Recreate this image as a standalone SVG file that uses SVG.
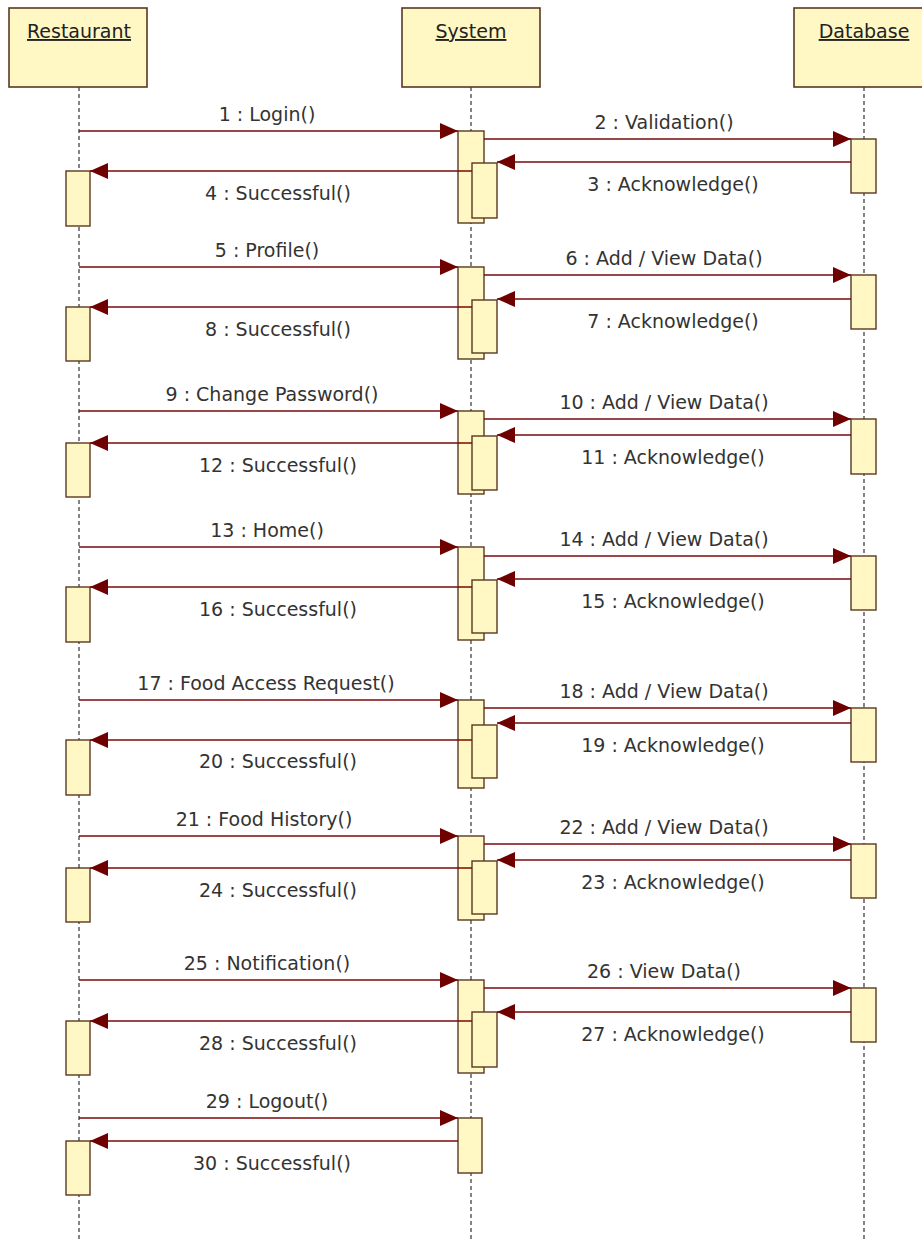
<svg xmlns="http://www.w3.org/2000/svg" width="922" height="1242" viewBox="0 0 922 1242">
<style>
.box{fill:#FFF8C4;stroke:#5a3820;stroke-width:1.6}
.act{fill:#FFF8C4;stroke:#5a3820;stroke-width:1.4}
.life{stroke:#333;stroke-width:1.2;stroke-dasharray:4 3;fill:none}
.hdr{font-family:"DejaVu Sans",sans-serif;font-size:19px;fill:#222;text-anchor:middle;text-decoration:underline}
.msg{stroke:#7a0a0a;stroke-width:1.5;fill:none;marker-end:url(#ah)}
.lbl{font-family:"DejaVu Sans",sans-serif;font-size:19px;fill:#333;text-anchor:middle}
</style>
<defs>
<marker id="ah" markerUnits="userSpaceOnUse" viewBox="0 0 18 16" refX="18" refY="8" markerWidth="18" markerHeight="16" orient="auto">
<path d="M0,0 L18,8 L0,16 Z" fill="#6e0000"/>
</marker>
</defs>
<rect width="922" height="1242" fill="#fff"/>

<g id="restaurant">
<line class="life" x1="79" y1="87" x2="79" y2="1242"/>
<rect class="box" x="9" y="8" width="138" height="79"/>
<text class="hdr" x="79" y="38">Restaurant</text>
<rect class="act" x="66" y="171" width="24" height="55"/>
<rect class="act" x="66" y="307" width="24" height="54"/>
<rect class="act" x="66" y="443" width="24" height="54"/>
<rect class="act" x="66" y="587" width="24" height="55"/>
<rect class="act" x="66" y="740" width="24" height="55"/>
<rect class="act" x="66" y="868" width="24" height="54"/>
<rect class="act" x="66" y="1021" width="24" height="54"/>
<rect class="act" x="66" y="1141" width="24" height="54"/>
</g>

<g id="system">
<line class="life" x1="471" y1="87" x2="471" y2="1242"/>
<rect class="box" x="402" y="8" width="138" height="79"/>
<text class="hdr" x="471" y="38">System</text>
<rect class="act" x="458" y="131" width="26" height="92"/>
<rect class="act" x="472" y="163" width="25" height="55"/>
<rect class="act" x="458" y="267" width="26" height="92"/>
<rect class="act" x="472" y="300" width="25" height="53"/>
<rect class="act" x="458" y="411" width="26" height="83"/>
<rect class="act" x="472" y="436" width="25" height="54"/>
<rect class="act" x="458" y="547" width="26" height="93"/>
<rect class="act" x="472" y="580" width="25" height="53"/>
<rect class="act" x="458" y="700" width="26" height="88"/>
<rect class="act" x="472" y="725" width="25" height="53"/>
<rect class="act" x="458" y="836" width="26" height="84"/>
<rect class="act" x="472" y="861" width="25" height="53"/>
<rect class="act" x="458" y="980" width="26" height="93"/>
<rect class="act" x="472" y="1012" width="25" height="55"/>
<rect class="act" x="458" y="1118" width="24" height="55"/>
</g>

<g id="database">
<line class="life" x1="864" y1="87" x2="864" y2="1242"/>
<rect class="box" x="794" y="8" width="138" height="79"/>
<text class="hdr" x="864" y="38">Database</text>
<rect class="act" x="851" y="139" width="25" height="54"/>
<rect class="act" x="851" y="275" width="25" height="54"/>
<rect class="act" x="851" y="419" width="25" height="55"/>
<rect class="act" x="851" y="556" width="25" height="54"/>
<rect class="act" x="851" y="708" width="25" height="54"/>
<rect class="act" x="851" y="844" width="25" height="54"/>
<rect class="act" x="851" y="988" width="25" height="54"/>
</g>

<g id="connectors">
<!-- block 1 -->
<line class="msg" x1="79" y1="131" x2="458" y2="131"/>
<text class="lbl" x="267" y="121">1 : Login()</text>
<line class="msg" x1="484" y1="139" x2="851" y2="139"/>
<text class="lbl" x="664" y="129">2 : Validation()</text>
<line class="msg" x1="851" y1="162" x2="497" y2="162"/>
<text class="lbl" x="673" y="191">3 : Acknowledge()</text>
<line class="msg" x1="472" y1="171" x2="90" y2="171"/>
<text class="lbl" x="278" y="200">4 : Successful()</text>
<!-- block 2 -->
<line class="msg" x1="79" y1="267" x2="458" y2="267"/>
<text class="lbl" x="267" y="257">5 : Profile()</text>
<line class="msg" x1="484" y1="275" x2="851" y2="275"/>
<text class="lbl" x="664" y="265">6 : Add / View Data()</text>
<line class="msg" x1="851" y1="299" x2="497" y2="299"/>
<text class="lbl" x="673" y="328">7 : Acknowledge()</text>
<line class="msg" x1="472" y1="307" x2="90" y2="307"/>
<text class="lbl" x="278" y="336">8 : Successful()</text>
<!-- block 3 -->
<line class="msg" x1="79" y1="411" x2="458" y2="411"/>
<text class="lbl" x="272" y="401">9 : Change Password()</text>
<line class="msg" x1="484" y1="419" x2="851" y2="419"/>
<text class="lbl" x="664" y="409">10 : Add / View Data()</text>
<line class="msg" x1="851" y1="435" x2="497" y2="435"/>
<text class="lbl" x="673" y="464">11 : Acknowledge()</text>
<line class="msg" x1="472" y1="443" x2="90" y2="443"/>
<text class="lbl" x="278" y="472">12 : Successful()</text>
<!-- block 4 -->
<line class="msg" x1="79" y1="547" x2="458" y2="547"/>
<text class="lbl" x="267" y="537">13 : Home()</text>
<line class="msg" x1="484" y1="556" x2="851" y2="556"/>
<text class="lbl" x="664" y="546">14 : Add / View Data()</text>
<line class="msg" x1="851" y1="579" x2="497" y2="579"/>
<text class="lbl" x="673" y="608">15 : Acknowledge()</text>
<line class="msg" x1="472" y1="587" x2="90" y2="587"/>
<text class="lbl" x="278" y="616">16 : Successful()</text>
<!-- block 5 -->
<line class="msg" x1="79" y1="700" x2="458" y2="700"/>
<text class="lbl" x="266" y="690">17 : Food Access Request()</text>
<line class="msg" x1="484" y1="708" x2="851" y2="708"/>
<text class="lbl" x="664" y="698">18 : Add / View Data()</text>
<line class="msg" x1="851" y1="723" x2="497" y2="723"/>
<text class="lbl" x="673" y="752">19 : Acknowledge()</text>
<line class="msg" x1="472" y1="740" x2="90" y2="740"/>
<text class="lbl" x="278" y="768">20 : Successful()</text>
<!-- block 6 -->
<line class="msg" x1="79" y1="836" x2="458" y2="836"/>
<text class="lbl" x="264" y="826">21 : Food History()</text>
<line class="msg" x1="484" y1="844" x2="851" y2="844"/>
<text class="lbl" x="664" y="834">22 : Add / View Data()</text>
<line class="msg" x1="851" y1="860" x2="497" y2="860"/>
<text class="lbl" x="673" y="889">23 : Acknowledge()</text>
<line class="msg" x1="472" y1="868" x2="90" y2="868"/>
<text class="lbl" x="278" y="897">24 : Successful()</text>
<!-- block 7 -->
<line class="msg" x1="79" y1="980" x2="458" y2="980"/>
<text class="lbl" x="267" y="970">25 : Notification()</text>
<line class="msg" x1="484" y1="988" x2="851" y2="988"/>
<text class="lbl" x="664" y="978">26 : View Data()</text>
<line class="msg" x1="851" y1="1012" x2="497" y2="1012"/>
<text class="lbl" x="673" y="1041">27 : Acknowledge()</text>
<line class="msg" x1="472" y1="1021" x2="90" y2="1021"/>
<text class="lbl" x="278" y="1050">28 : Successful()</text>
<!-- block 8 -->
<line class="msg" x1="79" y1="1118" x2="458" y2="1118"/>
<text class="lbl" x="267" y="1108">29 : Logout()</text>
<line class="msg" x1="458" y1="1141" x2="90" y2="1141"/>
<text class="lbl" x="272" y="1170">30 : Successful()</text>
</g>
</svg>
